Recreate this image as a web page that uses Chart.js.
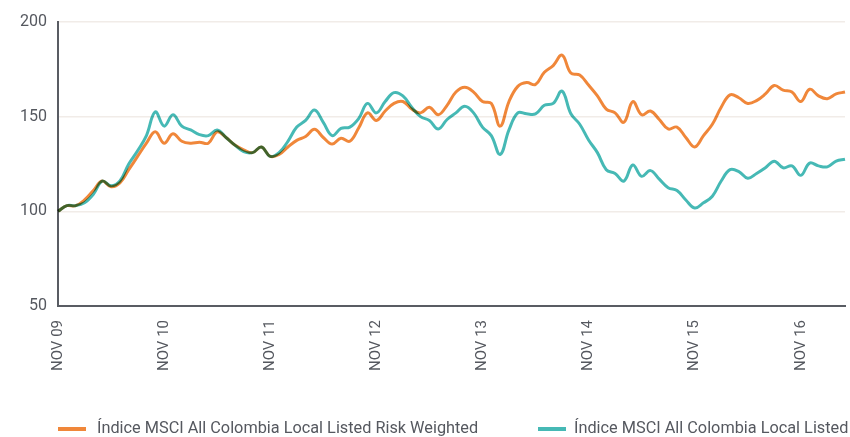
<!DOCTYPE html>
<html>
<head>
<meta charset="utf-8">
<script src="https://cdn.jsdelivr.net/npm/chart.js@4"></script>
<style>
  body { margin: 0; background: #fff; }
  #wrap { position: relative; width: 850px; height: 437px; }
  .legend-item { position: absolute; top: 418px; font: 16.3px Roboto, sans-serif; color: #55585f; white-space: nowrap; }
  .legend-item i { position: absolute; top: 9px; width: 28px; height: 4px; }
</style>
</head>
<body>
<div id="wrap">
  <canvas id="chart" width="850" height="437"></canvas>
  <div class="legend-item" style="left:58px"><i style="left:0;background:#f0873a"></i><span style="margin-left:39px">Índice MSCI All Colombia Local Listed Risk Weighted</span></div>
  <div class="legend-item" style="left:538px"><i style="left:0;background:#46b9b5"></i><span style="margin-left:36px">Índice MSCI All Colombia Local Listed</span></div>
</div>
<script>
// months Nov 2009 .. Apr 2017
const categories = [
  'NOV 09','DIC 09','ENE 10','FEB 10','MAR 10','ABR 10','MAY 10','JUN 10','JUL 10','AGO 10','SEP 10','OCT 10',
  'NOV 10','DIC 10','ENE 11','FEB 11','MAR 11','ABR 11','MAY 11','JUN 11','JUL 11','AGO 11','SEP 11','OCT 11',
  'NOV 11','DIC 11','ENE 12','FEB 12','MAR 12','ABR 12','MAY 12','JUN 12','JUL 12','AGO 12','SEP 12','OCT 12',
  'NOV 12','DIC 12','ENE 13','FEB 13','MAR 13','ABR 13','MAY 13','JUN 13','JUL 13','AGO 13','SEP 13','OCT 13',
  'NOV 13','DIC 13','ENE 14','FEB 14','MAR 14','ABR 14','MAY 14','JUN 14','JUL 14','AGO 14','SEP 14','OCT 14',
  'NOV 14','DIC 14','ENE 15','FEB 15','MAR 15','ABR 15','MAY 15','JUN 15','JUL 15','AGO 15','SEP 15','OCT 15',
  'NOV 15','DIC 15','ENE 16','FEB 16','MAR 16','ABR 16','MAY 16','JUN 16','JUL 16','AGO 16','SEP 16','OCT 16',
  'NOV 16','DIC 16','ENE 17','FEB 17','MAR 17','ABR 17'
];

const riskWeighted = [
  100, 103, 103, 106, 111, 116, 113, 115, 122, 129, 136, 142,
  136, 141, 137, 136, 136.5, 136, 142, 139, 135, 132.5, 131, 134,
  129, 130, 134, 137.5, 139.5, 143.3, 139, 135.5, 138.6, 137, 144, 152,
  148, 153, 157, 158, 154, 152, 155, 151, 156, 163, 165.5, 163,
  158, 157, 145, 158, 166, 168, 167, 173.5, 177, 182.5, 173, 172,
  166.7, 161, 154, 152, 147, 158, 151, 153, 148.5, 143.5, 144.5, 139,
  134, 140, 146, 155, 161.5, 160, 157, 158.5, 162, 166.5, 164, 163,
  158, 164.5, 161, 159.5, 162, 163
];

const localListed = [
  100, 103, 103, 104.5, 109, 116, 113.5, 116, 125, 132, 140, 152.5,
  145, 151, 145, 143, 140.5, 140, 143, 139, 135, 131.5, 131, 134,
  129, 131, 137, 144.5, 148, 153.5, 147, 140, 143.8, 144.5, 149, 157,
  152, 158, 162.7, 161, 155, 150, 148, 143.5, 148.5, 152, 155.5, 152,
  144.5, 140, 130, 143, 152, 151.5, 151.5, 156, 157, 163.5, 151.5, 146,
  137.7, 131, 122, 120, 116, 124.5, 118.5, 121.5, 117, 112.5, 111, 106,
  101.8, 104.5, 108, 116, 122, 121, 117.5, 120, 123, 126.5, 123, 124,
  119, 125.5, 124, 123.5, 126.5, 127.5
];

const yTicks = [50, 100, 150, 200];

// lines overlap as a dark mix in the original, so draw them with multiply
const multiplyLines = {
  id: 'multiplyLines',
  beforeDatasetsDraw(chart) {
    chart.ctx.save();
    chart.ctx.globalCompositeOperation = 'multiply';
  },
  afterDatasetsDraw(chart) {
    chart.ctx.restore();
  }
};

const ctx = document.getElementById('chart').getContext('2d');
new Chart(ctx, {
  type: 'line',
  data: {
    labels: categories,
    datasets: [
      {
        label: 'Índice MSCI All Colombia Local Listed Risk Weighted',
        data: riskWeighted,
        borderColor: '#f0873a',
        borderWidth: 3,
        pointRadius: 0,
        tension: 0.4,
        fill: false
      },
      {
        label: 'Índice MSCI All Colombia Local Listed',
        data: localListed,
        borderColor: '#46b9b5',
        borderWidth: 3,
        pointRadius: 0,
        tension: 0.4,
        fill: false
      }
    ]
  },
  options: {
    responsive: false,
    animation: false,
    layout: { padding: { top: 22, right: 5, left: 0, bottom: 0 } },
    plugins: {
      legend: { display: false },
      tooltip: { enabled: false }
    },
    scales: {
      x: {
        offset: false,
        grid: { display: false, drawTicks: false },
        border: { color: '#595c63', width: 2 },
        ticks: {
          autoSkip: false,
          minRotation: 90,
          maxRotation: 90,
          padding: 14,
          color: '#55585f',
          font: { family: 'Roboto', size: 15 },
          callback: (v, i) => (i % 12 === 0 ? categories[i] : '')
        },
        afterFit: (scale) => {
          scale.height = 131;
          scale.paddingLeft = 0;
          scale.paddingRight = 0;
        }
      },
      y: {
        min: 50,
        max: 200,
        afterBuildTicks: (scale) => { scale.ticks = yTicks.map(v => ({ value: v })); },
        grid: { color: '#f1ece8', lineWidth: 1.5, drawTicks: false },
        border: { color: '#595c63', width: 2 },
        ticks: {
          padding: 11,
          color: '#55585f',
          font: { family: 'Roboto', size: 16 }
        },
        afterFit: (scale) => { scale.width = 58; }
      }
    }
  },
  plugins: [multiplyLines]
});
</script>
</body>
</html>
